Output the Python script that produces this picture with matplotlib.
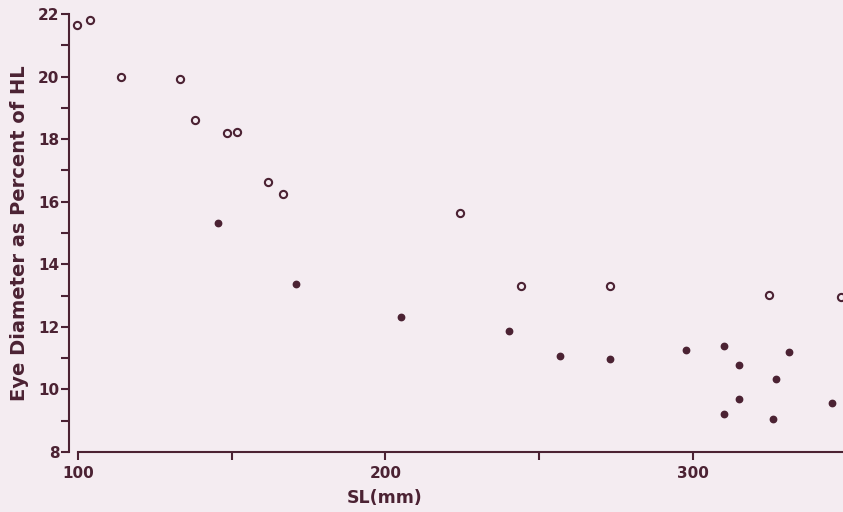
import matplotlib.pyplot as plt

plt.rcParams['font.family'] = ['DejaVu Sans']

# open circles
open_x = [99.7, 103.9, 114.0, 133.2, 138.0, 148.5, 151.8, 161.7, 166.8, 224.2, 244.3, 273.0, 324.8, 348.3]
open_y = [21.65, 21.8, 20.0, 19.93, 18.61, 18.21, 18.24, 16.63, 16.25, 15.64, 13.31, 13.29, 13.03, 12.95]

# filled dots
fill_x = [145.6, 170.9, 205.2, 240.2, 256.7, 273.0, 298.0, 310.2, 315.0, 315.2, 310.2, 331.3, 327.3, 326.1, 345.4]
fill_y = [15.33, 13.37, 12.30, 11.87, 11.06, 10.98, 11.27, 11.38, 10.79, 9.70, 9.20, 11.20, 10.34, 9.06, 9.56]

ink = '#4b2233'
bg = '#f4ecf1'

fig = plt.figure(figsize=(8.43, 5.12), dpi=100, facecolor=bg)
ax = fig.add_axes([69 / 843, 60 / 512, 1 - 69 / 843, 438 / 512])
ax.set_facecolor(bg)

ax.plot(open_x, open_y, 'o', ms=5.2, mfc=bg, mec=ink, mew=1.5, clip_on=False)
ax.plot(fill_x, fill_y, 'o', ms=4.6, mfc=ink, mec=ink, clip_on=False)

ax.set_xlim(97, 349)
ax.set_ylim(8, 22)
for s in ['top', 'right']:
    ax.spines[s].set_visible(False)
for s in ['left', 'bottom']:
    ax.spines[s].set_color(ink)
    ax.spines[s].set_linewidth(1.5)
ax.spines['bottom'].set_bounds(100, 349)
ax.spines['left'].set_bounds(8, 22)

ax.set_xticks([100, 150, 200, 250, 300])
ax.set_xticklabels(['100', '', '200', '', '300'])
ax.set_yticks([8, 10, 12, 14, 16, 18, 20, 22])
ax.set_yticks([9, 11, 13, 15, 17, 19, 21], minor=True)
ax.tick_params(axis='both', which='both', color=ink, width=1.5, labelcolor=ink, labelsize=11)
ax.tick_params(axis='y', which='both', length=6, pad=1)
ax.tick_params(axis='x', length=6, pad=4)
for lab in ax.get_xticklabels() + ax.get_yticklabels():
    lab.set_fontweight('bold')

ax.set_xlabel('SL(mm)', fontsize=12.5, fontweight='bold', color=ink)
ax.xaxis.set_label_coords((385 - 69) / 774, -0.085)
ax.set_ylabel('Eye Diameter as Percent of HL', fontsize=14,
              fontweight='bold', color=ink)
ax.yaxis.set_label_coords(-0.052, 0.50)

fig.savefig('out.png', dpi=100, facecolor=bg)
